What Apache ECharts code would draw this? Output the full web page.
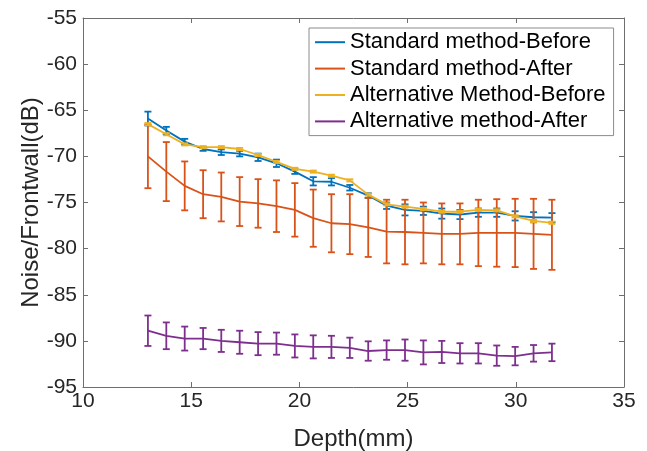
<!DOCTYPE html>
<html>
<head>
<meta charset="utf-8">
<script src="https://cdn.jsdelivr.net/npm/echarts@6/dist/echarts.min.js"></script>
<style>html,body{margin:0;padding:0;background:#fff;}#c{width:647px;height:451px;}</style>
</head>
<body>
<div id="c"></div>
<script>
const depth = [13.0, 13.85, 14.7, 15.55, 16.39, 17.24, 18.09, 18.94, 19.79, 20.64, 21.48, 22.33, 23.18, 24.03, 24.88, 25.73, 26.58, 27.42, 28.27, 29.12, 29.97, 30.82, 31.67];
const stdBefore = [-65.9, -67.2, -68.4, -69.2, -69.55, -69.7, -70.1, -70.75, -71.65, -72.7, -72.75, -73.4, -74.25, -75.35, -75.8, -75.9, -76.2, -76.3, -76.1, -76.1, -76.45, -76.6, -76.65];
const stdBeforeErr = [0.75, 0.4, 0.3, 0.2, 0.3, 0.3, 0.4, 0.4, 0.25, 0.45, 0.4, 0.3, 0.25, 0.35, 0.6, 0.45, 0.55, 0.5, 0.45, 0.45, 0.5, 0.55, 0.5];
const stdAfter = [-70.0, -71.65, -73.2, -74.1, -74.4, -74.9, -75.1, -75.4, -75.8, -76.7, -77.25, -77.35, -77.7, -78.15, -78.2, -78.3, -78.4, -78.4, -78.3, -78.3, -78.3, -78.4, -78.5];
const stdAfterErr = [3.45, 3.2, 2.65, 2.6, 2.65, 2.65, 2.63, 2.8, 2.9, 3.1, 3.15, 3.25, 3.2, 3.45, 3.5, 3.3, 3.3, 3.3, 3.6, 3.66, 3.7, 3.8, 3.8];
const altBefore = [-66.5, -67.6, -68.7, -69.0, -69.0, -69.2, -69.85, -70.6, -71.35, -71.65, -72.1, -72.6, -74.15, -75.2, -75.45, -75.7, -76.0, -76.0, -75.8, -75.85, -76.5, -77.0, -77.2];
const altBeforeErr = [0.12, 0.12, 0.12, 0.12, 0.12, 0.12, 0.12, 0.12, 0.12, 0.12, 0.12, 0.12, 0.12, 0.12, 0.12, 0.12, 0.12, 0.12, 0.12, 0.12, 0.12, 0.12, 0.12];
const altAfter = [-88.9, -89.45, -89.75, -89.75, -90.0, -90.15, -90.3, -90.3, -90.55, -90.65, -90.65, -90.75, -91.1, -91.0, -91.0, -91.25, -91.2, -91.35, -91.35, -91.6, -91.65, -91.35, -91.25];
const altAfterErr = [1.65, 1.45, 1.3, 1.15, 1.2, 1.25, 1.25, 1.2, 1.25, 1.25, 1.2, 1.1, 1.05, 1.05, 1.15, 1.3, 1.2, 1.1, 1.1, 1.1, 1.0, 0.9, 0.95];

const names = ['Standard method-Before', 'Standard method-After', 'Alternative Method-Before', 'Alternative method-After'];
const colors = ['#0072BD', '#D95319', '#EDB120', '#7E2F8E'];
const means = [stdBefore, stdAfter, altBefore, altAfter];
const errs = [stdBeforeErr, stdAfterErr, altBeforeErr, altAfterErr];

const FONT = '"Liberation Sans", Arial, Helvetica, sans-serif';
const TXT = '#262626';
const AX = '#6e6e6e';

function errRender(color) {
  return function (params, api) {
    const x = api.value(0), lo = api.value(1), hi = api.value(2);
    const a = api.coord([x, hi]);
    const b = api.coord([x, lo]);
    const w = 3.5;
    const st = { stroke: color, lineWidth: 1.8 };
    return {
      type: 'group',
      children: [
        { type: 'line', shape: { x1: a[0], y1: a[1], x2: b[0], y2: b[1] }, style: st },
        { type: 'line', shape: { x1: a[0] - w, y1: a[1], x2: a[0] + w, y2: a[1] }, style: st },
        { type: 'line', shape: { x1: b[0] - w, y1: b[1], x2: b[0] + w, y2: b[1] }, style: st }
      ]
    };
  };
}

const series = [];
for (let k = 0; k < 4; k++) {
  series.push({
    name: names[k],
    type: 'line',
    data: depth.map((x, i) => [x, means[k][i]]),
    symbol: 'none',
    lineStyle: { color: colors[k], width: 1.8 },
    itemStyle: { color: colors[k] },
    z: 2 + k * 2,
    animation: false
  });
  series.push({
    name: names[k] + ' err',
    type: 'custom',
    data: depth.map((x, i) => [x, means[k][i] - errs[k][i], means[k][i] + errs[k][i]]),
    encode: { x: 0, y: [1, 2] },
    renderItem: errRender(colors[k]),
    z: 3 + k * 2,
    animation: false
  });
}

const chart = echarts.init(document.getElementById('c'), null, { renderer: 'canvas' });
chart.setOption({
  backgroundColor: '#fff',
  animation: false,
  grid: { left: 83, right: 23, top: 18, bottom: 64, containLabel: false, outerBoundsMode: 'none' },
  legend: {
    data: names,
    orient: 'vertical',
    left: 309,
    top: 28,
    icon: 'rect',
    itemWidth: 30,
    itemHeight: 2,
    itemGap: 0,
    padding: [1, 8, 1, 6],
    backgroundColor: '#fff',
    borderColor: '#8c8c8c',
    borderWidth: 1,
    borderRadius: 0,
    textStyle: { fontFamily: FONT, fontSize: 22, color: '#000', lineHeight: 26.4 },
    selectedMode: false
  },
  xAxis: [
    {
      type: 'value', min: 10, max: 35, interval: 5, position: 'bottom',
      name: 'Depth(mm)', nameLocation: 'middle', nameGap: 40, nameMoveOverlap: false,
      nameTextStyle: { fontFamily: FONT, fontSize: 24, color: TXT },
      axisLine: { show: true, onZero: false, lineStyle: { color: AX, width: 1 } },
      axisTick: { show: true, inside: true, length: 5, lineStyle: { color: AX } },
      axisLabel: { fontFamily: FONT, fontSize: 21, color: TXT, margin: 4 },
      splitLine: { show: false }
    },
    {
      type: 'value', min: 10, max: 35, interval: 5, position: 'top',
      axisLine: { show: true, onZero: false, lineStyle: { color: AX, width: 1 } },
      axisTick: { show: true, inside: true, length: 5, lineStyle: { color: AX } },
      axisLabel: { show: false },
      splitLine: { show: false }
    }
  ],
  yAxis: [
    {
      type: 'value', min: -95, max: -55, interval: 5, position: 'left',
      name: 'Noise/Frontwall(dB)', nameLocation: 'middle', nameGap: 40, nameMoveOverlap: false,
      nameTextStyle: { fontFamily: FONT, fontSize: 24, color: TXT },
      axisLine: { show: true, onZero: false, lineStyle: { color: AX, width: 1 } },
      axisTick: { show: true, inside: true, length: 5, lineStyle: { color: AX } },
      axisLabel: { fontFamily: FONT, fontSize: 21, color: TXT, margin: 6 },
      splitLine: { show: false }
    },
    {
      type: 'value', min: -95, max: -55, interval: 5, position: 'right',
      axisLine: { show: true, onZero: false, lineStyle: { color: AX, width: 1 } },
      axisTick: { show: true, inside: true, length: 5, lineStyle: { color: AX } },
      axisLabel: { show: false },
      splitLine: { show: false }
    }
  ],
  series: series
});
</script>
</body>
</html>
